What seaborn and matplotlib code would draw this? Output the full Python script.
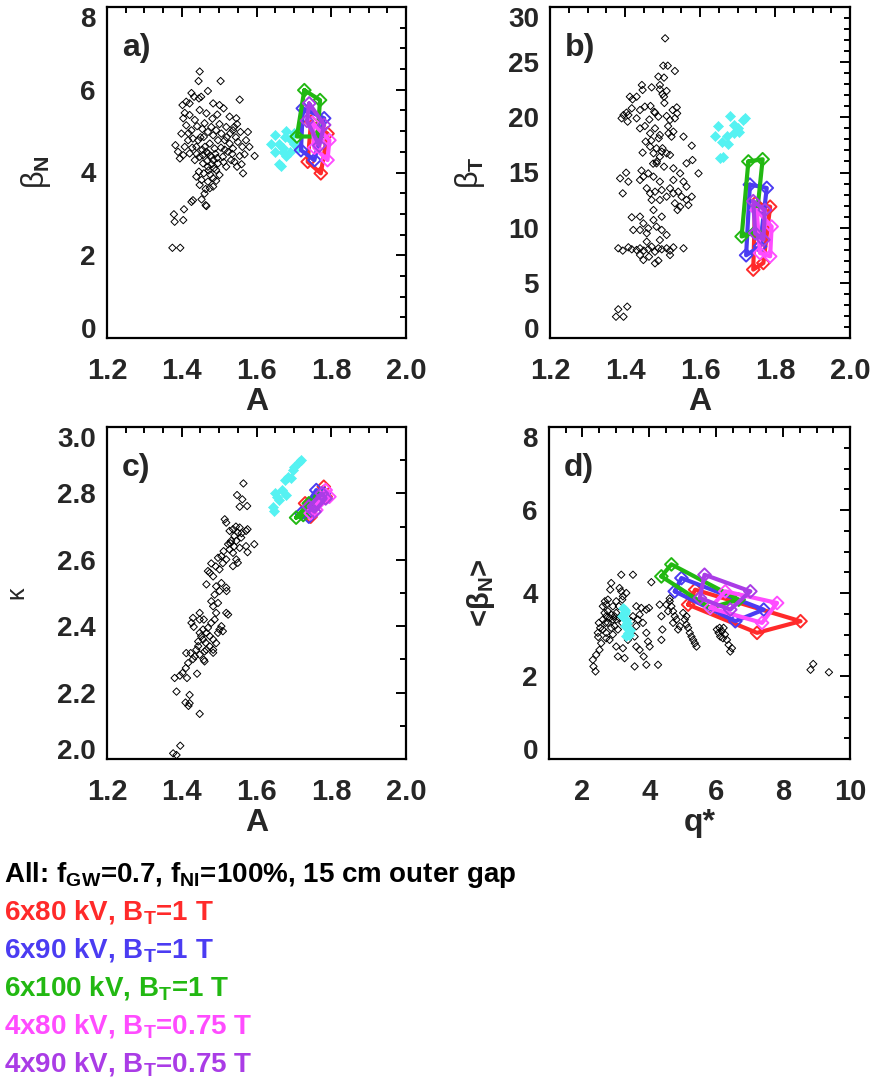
import numpy as np
import matplotlib
matplotlib.use("Agg")
import matplotlib.pyplot as plt
import seaborn as sns
from matplotlib.ticker import MultipleLocator, FormatStrFormatter
from matplotlib.transforms import ScaledTranslation

# ---------------- data ----------------
case_labels = [r"6x80 kV, B$_{T}$=1 T", r"6x90 kV, B$_{T}$=1 T", r"6x100 kV, B$_{T}$=1 T",
               r"4x80 kV, B$_{T}$=0.75 T", r"4x90 kV, B$_{T}$=0.75 T"]
case_colors = ["#ff2a2a", "#4b3cf2", "#22b812", "#ff4cff", "#aa3ce6"]
header_text = r"All: f$_{GW}$=0.7, f$_{NI}$=100%, 15 cm outer gap"

# panel a: beta_N vs A
a_blk_A = [1.448,1.445,1.504,1.555,1.426,1.433,1.412,1.421,1.402,1.446,1.470,1.452,1.484,1.501,1.512,1.546,1.528,1.548,
           1.408,1.404,1.421,1.448,1.466,1.435,1.412,1.426,1.441,1.461,1.479,1.492,1.501,1.519,1.537,1.557,1.577,1.572,
           1.595,1.581,1.562,1.568,1.564,1.548,1.541,1.383,1.390,1.395,1.404,1.408,1.417,1.399,1.430,1.439,1.421,1.435,
           1.448,1.457,1.466,1.475,1.488,1.497,1.484,1.506,1.515,1.528,1.524,1.537,1.550,1.510,1.497,1.484,1.470,1.459,
           1.470,1.484,1.453,1.475,1.461,1.453,1.464,1.466,1.484,1.448,1.492,1.519,1.532,1.501,1.446,1.439,1.457,1.444,
           1.470,1.459,1.379,1.381,1.404,1.406,1.426,1.430,1.375,1.396,
           1.470,1.478,1.462,1.490,1.505,1.515,1.480,1.472,1.455,1.495,1.520,1.530,1.545,1.540,1.482,1.495,1.455,1.440,
           1.428,1.468,1.486,1.476,1.464,1.492,1.512,1.555,1.560,1.535,1.450,1.418]
a_blk_bN = [6.44,6.21,6.21,5.76,5.92,5.83,5.71,5.67,5.63,5.79,5.97,5.83,5.67,5.63,5.55,5.31,5.35,5.17,
            5.44,5.31,5.39,5.51,5.43,5.27,5.14,5.02,5.12,5.19,5.10,5.02,5.17,5.10,5.02,4.98,4.98,4.78,
            4.40,4.62,4.62,4.44,3.98,4.14,4.26,4.66,4.50,4.34,4.42,4.62,4.78,4.94,4.82,4.62,4.46,4.30,
            4.38,4.22,4.50,4.70,4.58,4.78,4.90,4.94,4.78,4.70,4.50,4.58,4.74,4.38,4.22,4.30,4.14,3.98,
            3.78,3.86,3.82,3.62,3.49,3.35,3.21,3.19,3.66,3.70,4.06,4.14,4.30,3.94,4.02,3.90,4.42,4.78,
            4.98,4.86,2.99,2.81,2.85,3.11,3.29,3.33,2.18,2.18,
            4.46,4.40,4.62,4.45,4.60,4.55,4.20,4.05,4.55,4.35,4.85,4.95,4.85,5.10,5.30,5.40,5.05,4.45,
            4.60,4.28,4.10,3.95,3.60,3.80,4.25,4.40,4.20,4.45,4.85,4.95]
a_cyn_A = [1.640,1.650,1.660,1.670,1.680,1.690,1.700,1.670,1.680,1.660,1.665,1.690,1.710,1.650,1.675,1.700]
a_cyn_bN = [4.70,4.90,4.70,4.60,5.00,4.80,4.70,4.50,4.40,4.20,4.15,4.50,4.60,4.50,4.85,4.95]
a_quad_A = [[1.746,1.790,1.772,1.737], [1.724,1.781,1.755,1.719], [1.728,1.770,1.763,1.708],
            [1.750,1.795,1.790,1.755], [1.741,1.781,1.768,1.735]]
a_quad_bN = [[5.23,4.94,3.98,4.26], [5.55,5.31,4.30,4.54], [5.99,5.75,4.87,4.87],
             [5.20,4.78,4.30,4.60], [5.67,5.15,4.65,5.25]]

# panel b: beta_T vs A
b_blk_A = [1.507,1.502,1.514,1.533,1.445,1.447,1.471,1.493,1.493,1.500,1.504,1.511,1.489,1.504,
           1.413,1.420,1.431,1.453,1.468,1.440,1.404,1.409,1.418,1.396,1.391,1.407,1.431,1.480,1.489,1.511,1.520,1.533,1.539,1.527,1.538,
           1.440,1.453,1.467,1.480,1.493,1.516,1.524,1.529,1.556,1.578,1.596,1.580,1.564,
           1.447,1.467,1.476,1.484,1.493,1.498,1.511,1.520,1.484,1.504,1.529,1.547,1.444,1.449,1.462,1.476,1.440,1.493,1.529,1.556,1.564,1.578,
           1.387,1.403,1.409,1.394,
           1.458,1.467,1.480,1.498,1.520,1.529,1.542,1.551,1.564,1.511,1.493,1.471,1.533,1.547,1.569,1.540,
           1.418,1.422,1.440,1.449,1.462,1.476,1.484,1.498,1.511,1.458,1.440,1.476,1.498,
           1.382,1.394,1.409,1.418,1.431,1.440,1.450,1.462,1.471,1.480,1.489,1.498,1.511,1.520,1.529,1.556,
           1.449,1.464,1.480,1.489,1.520,1.440,1.458,1.493,
           1.376,1.382,1.396,1.406,
           1.455,1.470,1.485,1.500,1.465,1.478,1.505,1.515,1.490,1.475]
b_blk_bT = [27.16,24.68,24.68,24.20,22.93,22.48,22.72,22.93,22.54,22.10,21.87,22.39,23.69,23.60,
            21.87,21.63,21.87,20.97,21.03,20.66,20.42,20.21,20.82,20.21,19.91,19.61,19.91,20.42,20.06,20.12,19.76,19.91,20.36,20.66,20.90,
            19.00,19.21,18.55,19.00,18.40,18.55,18.25,18.70,18.25,17.43,14.92,16.13,15.83,
            16.80,17.34,16.74,17.19,16.43,16.89,16.74,16.59,15.83,15.53,15.38,14.92,15.17,14.62,14.92,14.62,14.32,14.17,14.32,14.17,13.72,12.81,
            14.47,14.98,14.17,13.11,
            13.57,13.11,13.26,13.41,13.57,13.11,13.26,12.81,12.51,12.81,12.51,12.51,12.21,11.90,12.05,11.60,
            10.94,9.79,11.00,10.39,9.94,10.69,10.09,9.79,9.34,9.49,9.79,11.60,11.00,
            8.13,7.92,8.22,8.04,7.98,8.13,7.92,8.04,8.28,7.82,8.13,8.04,8.13,7.92,8.22,8.13,
            7.07,7.37,6.77,7.01,7.52,7.52,8.73,8.88,
            1.93,2.60,1.93,2.84,
            17.80,17.90,16.00,17.20,19.80,20.50,21.30,19.20,18.10,15.80]
b_cyn_A = [1.649,1.680,1.714,1.720,1.690,1.704,1.671,1.640,1.658,1.675,1.662,1.653,1.690,1.700]
b_cyn_bT = [19.2,20.1,19.8,19.9,19.3,18.7,18.3,18.3,17.8,17.6,16.4,16.3,18.6,19.0]
b_quad_A = [[1.747,1.787,1.769,1.742], [1.733,1.778,1.760,1.723], [1.729,1.767,1.747,1.711],
            [1.751,1.791,1.787,1.760], [1.742,1.773,1.769,1.747]]
b_quad_bT = [[12.2,11.9,6.8,6.2], [13.9,13.6,8.3,7.5], [16.0,16.2,9.6,9.2],
             [11.6,10.1,7.4,7.7], [12.4,11.6,8.9,9.5]]

# panel c: kappa vs A
c_blk_A = [1.377,1.386,1.396,1.386,1.421,1.410,1.418,1.448,1.421,1.381,1.395,1.402,1.411,1.414,1.441,1.417,1.430,1.424,
           1.439,1.435,1.448,1.459,1.461,1.426,1.430,1.444,1.452,1.466,1.457,1.470,1.448,1.484,1.492,1.475,1.466,1.484,
           1.497,1.510,1.506,1.519,1.524,1.488,1.479,1.459,1.492,1.484,1.497,1.479,1.488,1.501,1.492,1.506,1.519,1.520,
           1.466,1.475,1.470,1.484,1.491,1.501,1.510,1.479,1.497,1.506,1.519,1.512,1.528,1.537,1.524,1.532,1.541,1.546,
           1.537,1.550,1.555,1.528,1.515,1.519,1.559,1.572,1.576,1.555,1.572,1.576,1.594,1.546,1.537,1.550,
           1.565,1.548,1.562,1.555,1.575,
           1.457,1.475,1.464,1.501,1.444,1.484,1.461,1.412,1.448,1.432,1.448,1.540,1.530,1.545,1.560]
c_blk_k = [2.017,2.012,2.040,2.203,2.193,2.170,2.160,2.136,2.168,2.244,2.251,2.259,2.274,2.244,2.257,2.289,2.301,2.319,
           2.329,2.309,2.314,2.299,2.324,2.410,2.425,2.354,2.370,2.380,2.390,2.395,2.380,2.360,2.349,2.339,2.329,2.329,
           2.380,2.385,2.400,2.440,2.435,2.420,2.410,2.420,2.440,2.460,2.470,2.475,2.495,2.506,2.520,2.530,2.516,2.506,
           2.526,2.561,2.566,2.550,2.580,2.571,2.590,2.589,2.606,2.611,2.601,2.626,2.631,2.621,2.647,2.657,2.672,2.657,
           2.692,2.682,2.697,2.687,2.722,2.712,2.667,2.687,2.692,2.636,2.641,2.623,2.647,2.601,2.581,2.591,
           2.830,2.795,2.782,2.760,2.762,
           2.360,2.370,2.350,2.390,2.340,2.320,2.294,2.319,2.440,2.398,2.420,2.640,2.650,2.700,2.680]
c_cyn_A = [1.648,1.644,1.660,1.650,1.668,1.680,1.676,1.693,1.697,1.715,1.720,1.700,1.655,1.685]
c_cyn_k = [2.747,2.760,2.780,2.800,2.810,2.795,2.840,2.845,2.870,2.895,2.900,2.880,2.790,2.850]
c_quad_A = [[1.730,1.745,1.785,1.780], [1.720,1.740,1.780,1.760], [1.706,1.725,1.770,1.740],
            [1.745,1.760,1.795,1.785], [1.740,1.755,1.785,1.775]]
c_quad_k = [[2.770,2.730,2.790,2.820], [2.740,2.730,2.800,2.810], [2.727,2.735,2.790,2.770],
            [2.740,2.750,2.790,2.810], [2.760,2.745,2.785,2.800]]

# panel d: <beta_N> vs q*
d_blk_q = [2.39,2.33,2.31,2.41,2.51,2.56,2.47,2.46,2.53,2.49,2.61,2.66,2.61,2.67,2.76,2.71,2.86,3.16,3.51,2.83,3.11,3.16,
           3.21,3.01,2.91,2.76,2.81,2.91,2.76,2.96,3.06,2.91,2.81,2.71,3.01,3.06,3.21,3.26,3.36,3.61,3.66,3.71,3.61,3.76,
           3.91,3.99,3.81,3.91,3.96,4.01,3.83,3.91,3.56,4.26,4.06,3.51,3.46,3.31,3.41,3.56,3.61,3.71,3.31,3.19,3.09,3.01,
           3.11,3.19,3.01,2.86,2.71,2.61,2.86,2.96,2.71,2.69,
           4.31,4.61,4.36,4.39,4.36,4.61,4.66,4.71,4.76,4.81,4.71,4.86,4.91,5.06,5.11,5.16,5.21,5.26,5.31,5.36,5.41,5.11,
           5.01,4.56,4.51,
           6.02,6.07,6.17,6.22,6.12,6.26,6.32,6.37,6.42,6.47,6.20,6.10,
           8.82,8.90,9.37]
d_blk_bN = [2.11,2.23,2.39,2.51,2.63,2.79,2.94,3.04,3.16,3.28,3.36,3.52,3.68,3.80,3.84,3.72,4.24,4.44,4.44,4.08,4.12,4.04,
            3.92,3.80,3.68,3.56,3.40,3.36,3.28,3.20,3.12,3.00,2.87,2.91,2.71,2.47,2.67,2.43,2.87,3.20,3.36,3.48,3.68,3.64,
            3.60,3.64,3.28,3.04,2.83,2.71,2.47,2.27,2.23,2.27,4.26,3.44,3.32,3.20,3.04,2.95,2.71,2.63,4.00,3.84,3.68,3.52,
            3.40,3.28,3.36,3.16,3.04,3.12,3.48,3.44,3.44,3.28,
            3.72,3.87,3.44,3.12,2.87,3.80,3.68,3.56,3.44,3.36,3.28,3.12,3.20,3.36,3.24,3.16,3.04,2.95,2.87,2.79,2.71,3.44,
            3.52,3.56,3.72,
            3.12,3.04,3.08,3.16,2.95,3.00,2.87,2.75,2.59,2.67,2.91,3.16,
            2.15,2.29,2.09]
d_cyn_q = [3.21,3.26,3.31,3.26,3.36,3.31,3.41,3.19,3.33,3.28,3.38,3.24]
d_cyn_bN = [3.65,3.55,3.36,3.20,3.04,2.96,3.12,3.44,3.28,3.60,3.00,3.50]
d_quad_q = [[5.16,5.37,8.52,7.22], [4.76,4.96,7.42,6.57], [4.36,4.66,6.67,5.82],
            [5.82,6.27,7.82,7.37], [5.51,5.65,7.02,6.42]]
d_quad_bN = [[3.72,4.08,3.32,3.04], [4.04,4.36,3.60,3.32], [4.40,4.69,3.84,3.64],
             [3.64,4.04,3.76,3.28], [3.88,4.44,4.04,3.60]]

cyan_color = "#55f2f2"

# ---------------- style ----------------
sns.set_theme(style="white")
plt.rcParams["font.family"] = ["Liberation Sans", "DejaVu Sans"]
plt.rcParams["font.weight"] = "bold"
plt.rcParams["mathtext.fontset"] = "custom"
plt.rcParams["mathtext.rm"] = "Liberation Sans"
plt.rcParams["mathtext.bf"] = "Liberation Sans:bold"
plt.rcParams["mathtext.it"] = "Liberation Sans:italic"
plt.rcParams["mathtext.default"] = "bf"
plt.rcParams["axes.edgecolor"] = "black"

fig = plt.figure(figsize=(8.74, 10.78), dpi=100)
W, H = 874.0, 1078.0
ax_a = fig.add_axes([107 / W, 1 - 338 / H, 299 / W, 331 / H])
ax_b = fig.add_axes([550 / W, 1 - 338 / H, 300 / W, 331 / H])
ax_c = fig.add_axes([107 / W, 1 - 759 / H, 299 / W, 332 / H])
ax_d = fig.add_axes([549 / W, 1 - 759 / H, 301 / W, 332 / H])


def draw_panel(ax, bx, by, cx, cy, qx, qy):
    sns.scatterplot(x=bx, y=by, ax=ax, marker="D", s=14, facecolor="none",
                    edgecolor="black", linewidth=0.7, legend=False, zorder=2)
    sns.scatterplot(x=cx, y=cy, ax=ax, marker="D", s=26, color=cyan_color,
                    edgecolor=cyan_color, linewidth=0.5, legend=False, zorder=3)
    for i in range(len(qx)):
        xs = list(qx[i]) + [qx[i][0]]
        ys = list(qy[i]) + [qy[i][0]]
        sns.lineplot(x=xs, y=ys, ax=ax, sort=False, estimator=None, color=case_colors[i],
                     linewidth=3.0, legend=False, zorder=4 + i)
        sns.scatterplot(x=qx[i], y=qy[i], ax=ax, marker="D", s=42, facecolor="none",
                        edgecolor=case_colors[i], linewidth=1.4, legend=False, zorder=4 + i)


def style_axis(ax, xlim, ylim, xmaj, xmin, ymaj, ymin, xfmt, yfmt, xlabel, ylabel, ylab_x,
               ylab_weight, ylab_size, tag):
    ax.set_xlim(*xlim)
    ax.set_ylim(*ylim)
    ax.xaxis.set_major_locator(MultipleLocator(xmaj))
    ax.xaxis.set_minor_locator(MultipleLocator(xmin))
    ax.yaxis.set_major_locator(MultipleLocator(ymaj))
    ax.yaxis.set_minor_locator(MultipleLocator(ymin))
    ax.xaxis.set_major_formatter(FormatStrFormatter(xfmt))
    ax.yaxis.set_major_formatter(FormatStrFormatter(yfmt))
    ax.tick_params(which="both", direction="in", top=True, right=True, color="black", width=1.4)
    ax.tick_params(which="major", length=7)
    ax.tick_params(which="minor", length=4)
    ax.tick_params(axis="x", which="major", pad=14, labelsize=21)
    ax.tick_params(axis="y", which="major", pad=8, labelsize=20)
    for sp in ax.spines.values():
        sp.set_linewidth(1.6)
        sp.set_color("black")
        sp.set_visible(True)
    ax.set_xlabel(xlabel, fontsize=23, fontweight="bold")
    ax.set_ylabel(ylabel, fontsize=ylab_size, fontweight=ylab_weight)
    ax.xaxis.set_label_coords(0.5, -0.147)
    ax.yaxis.set_label_coords(ylab_x, 0.5)
    ax.text(0.05, 0.876, tag, transform=ax.transAxes, fontsize=23, fontweight="bold",
            va="center", ha="left")
    ax.grid(False)
    # IDL-style: end labels on the y axis are pulled inside the axis range
    ticks = ax.yaxis.get_major_ticks()
    locs = ax.yaxis.get_majorticklocs()
    for t, v in zip(ticks, locs):
        if np.isclose(v, ylim[0]):
            t.label1.set_transform(t.label1.get_transform() +
                                   ScaledTranslation(0, 10 / 100, fig.dpi_scale_trans))
        elif np.isclose(v, ylim[1]):
            t.label1.set_transform(t.label1.get_transform() +
                                   ScaledTranslation(0, -10 / 100, fig.dpi_scale_trans))


draw_panel(ax_a, a_blk_A, a_blk_bN, a_cyn_A, a_cyn_bN, a_quad_A, a_quad_bN)
draw_panel(ax_b, b_blk_A, b_blk_bT, b_cyn_A, b_cyn_bT, b_quad_A, b_quad_bT)
draw_panel(ax_c, c_blk_A, c_blk_k, c_cyn_A, c_cyn_k, c_quad_A, c_quad_k)
draw_panel(ax_d, d_blk_q, d_blk_bN, d_cyn_q, d_cyn_bN, d_quad_q, d_quad_bN)

style_axis(ax_a, (1.2, 2.0), (0, 8), 0.2, 0.05, 2, 0.5, "%.1f", "%d", "A",
           r"β$_\mathrm{N}$", -0.18, "normal", 22, "a)")
style_axis(ax_b, (1.2, 2.0), (0, 30), 0.2, 0.05, 5, 1, "%.1f", "%d", "A",
           r"β$_\mathrm{T}$", -0.21, "normal", 22, "b)")
style_axis(ax_c, (1.2, 2.0), (2.0, 3.0), 0.2, 0.05, 0.2, 0.1, "%.1f", "%.1f", "A",
           "κ", -0.264, "normal", 18, "c)")
style_axis(ax_d, (1, 10), (0, 8), 2, 0.5, 2, 0.5, "%d", "%d", "q*",
           r"<β$_{N}$>", -0.173, "bold", 21, "d)")

# ---------------- annotation block ----------------
lines = [header_text] + case_labels
line_colors = ["black"] + case_colors
for k, (txt, col) in enumerate(zip(lines, line_colors)):
    fig.text(4 / W, 1 - (881.5 + 38.0 * k) / H, txt, color=col, fontsize=20,
             fontweight="bold", ha="left", va="baseline")

fig.savefig("out.png", dpi=100)
